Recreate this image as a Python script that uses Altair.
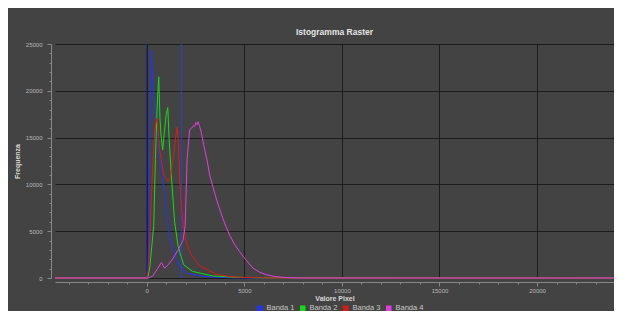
import altair as alt
import pandas as pd

band_names = ["Banda 1", "Banda 2", "Banda 3", "Banda 4"]
band_colors = ["#1f35ff", "#10e010", "#e01a10", "#e040e0"]

band1_x = [-4698, 0, 60, 120, 180, 240, 300, 410, 520, 620, 750, 920, 1010, 1180, 1350, 1520, 1740, 2100, 2760, 3500, 4500, 5500, 23940]
band1_y = [0, 0, 400, 7000, 18000, 24350, 21500, 18300, 16000, 13700, 11500, 9000, 7000, 4300, 3200, 1900, 1060, 500, 200, 80, 20, 0, 0]

band2_x = [-4698, 50, 154, 360, 445, 540, 615, 680, 740, 820, 900, 1000, 1080, 1150, 1260, 1430, 1600, 1700, 1900, 2350, 3380, 4500, 6000, 23940]
band2_y = [0, 0, 1060, 5600, 12660, 18500, 21500, 17000, 15100, 13700, 15500, 17500, 18200, 14800, 11000, 6000, 3500, 2700, 1400, 700, 220, 80, 10, 0]

band3_x = [-4698, 0, 100, 200, 320, 420, 525, 600, 665, 750, 870, 1090, 1200, 1350, 1480, 1560, 1620, 1690, 1780, 1900, 2050, 2290, 2700, 3000, 3570, 4250, 5000, 6000, 7000, 23940]
band3_y = [0, 0, 1000, 6500, 12500, 16000, 17070, 15500, 13720, 12660, 11000, 10300, 10600, 12660, 15000, 16100, 14500, 10500, 7500, 5300, 3600, 2450, 1300, 1000, 400, 150, 60, 20, 0, 0]

band4_x = [-4698, 100, 300, 560, 750, 920, 1090, 1350, 1600, 1860, 1970, 2020, 2070, 2110, 2200, 2300, 2400, 2460, 2520, 2580, 2630, 2714, 2800, 2970, 3100, 3226, 3400, 3569, 3750, 3907, 4080, 4250, 4500, 4762, 5100, 5443, 5800, 6129, 6600, 7153, 7834, 23940]
band4_y = [0, 0, 200, 1000, 1650, 1060, 1390, 2100, 2970, 4030, 5600, 9140, 12660, 13720, 15840, 16000, 16300, 16200, 16600, 16400, 16700, 16200, 15500, 13720, 12500, 11000, 9700, 8440, 7300, 6330, 5400, 4570, 3600, 2810, 1900, 1060, 600, 350, 150, 50, 0, 0]

marker_x = [0, 1770]
marker_color = ["#1c2890", "#2e3fd0"]

x_ticks = list(range(-4000, 23001, 1000))
y_ticks = list(range(0, 25001, 1000))

rows = []
for name, xs, ys in zip(band_names, [band1_x, band2_x, band3_x, band4_x], [band1_y, band2_y, band3_y, band4_y]):
    for i, (xv, yv) in enumerate(zip(xs, ys)):
        rows.append({"banda": name, "valore": xv, "freq": yv, "ord": i})
df = pd.DataFrame(rows)
markers = pd.DataFrame({"valore": marker_x, "col": marker_color})

FONT = "Liberation Sans"
x_scale = alt.Scale(domain=[-4698, 23940], nice=False, zero=False)
y_scale = alt.Scale(domain=[0, 25000], nice=False)

major5k = "datum.value % 5000 === 0"

x_axis = alt.Axis(
    values=x_ticks, format="d",
    labelExpr="datum.value % 5000 === 0 ? datum.label : ''",
    offset=4, tickSize={"condition": {"test": major5k, "value": 4}, "value": 2},
    labelPadding=1, labelFontSize=6, labelColor="#b8b8b8", labelFont=FONT,
    tickColor="#888888", domainColor="#888888", domainWidth=1,
    gridColor="#1c1c1c", gridWidth=1,
    gridOpacity={"condition": {"test": major5k, "value": 1}, "value": 0},
    title="Valore Pixel", titleFontSize=7, titleFontWeight="bold",
    titleColor="#d8d8d8", titleFont=FONT, titlePadding=1,
)
y_axis = alt.Axis(
    values=y_ticks, format="d",
    labelExpr="datum.value % 5000 === 0 ? datum.label : ''",
    offset=4, tickSize={"condition": {"test": major5k, "value": 4}, "value": 2},
    labelPadding=5, labelFontSize=6, labelColor="#b8b8b8", labelFont=FONT,
    tickColor="#888888", domainColor="#888888", domainWidth=1,
    gridColor="#1c1c1c", gridWidth=1,
    gridOpacity={"condition": {"test": major5k, "value": 1}, "value": 0},
    title="Frequenza", titleFontSize=7, titleFontWeight="bold",
    titleColor="#d8d8d8", titleFont=FONT, titlePadding=5,
)

rules = alt.Chart(markers).mark_rule(strokeWidth=1).encode(
    x=alt.X("valore:Q", scale=x_scale, axis=x_axis),
    color=alt.Color("col:N", scale=None, legend=None),
)

lines = alt.Chart(df).mark_line(strokeWidth=1).encode(
    x=alt.X("valore:Q", scale=x_scale, axis=x_axis),
    y=alt.Y("freq:Q", scale=y_scale, axis=y_axis),
    color=alt.Color(
        "banda:N",
        scale=alt.Scale(domain=band_names, range=band_colors),
        legend=alt.Legend(
            title=None, orient="none", legendX=201, legendY=260,
            direction="horizontal", columns=4, columnPadding=1,
            symbolType="square", symbolSize=9, symbolStrokeWidth=2.5,
            labelFontSize=7.5, labelColor="#c8c8c8", labelFont=FONT,
            labelOffset=3,
        ),
    ),
    order="ord:Q",
)

chart = alt.layer(rules, lines).resolve_scale(color="independent").properties(
    width=559, height=234,
    padding={"left": 47, "top": 36, "right": 0, "bottom": 33},
    autosize=alt.AutoSizeParams(type="none"),
    background="#434343",
    title=alt.TitleParams("Istogramma Raster", fontSize=8.5, fontWeight="bold",
                          color="#e6e6e6", font=FONT, offset=5, anchor="middle"),
).configure_view(stroke=None, fill="#434343")

chart.save("out.html", embed_options={"renderer": "svg", "actions": False})
